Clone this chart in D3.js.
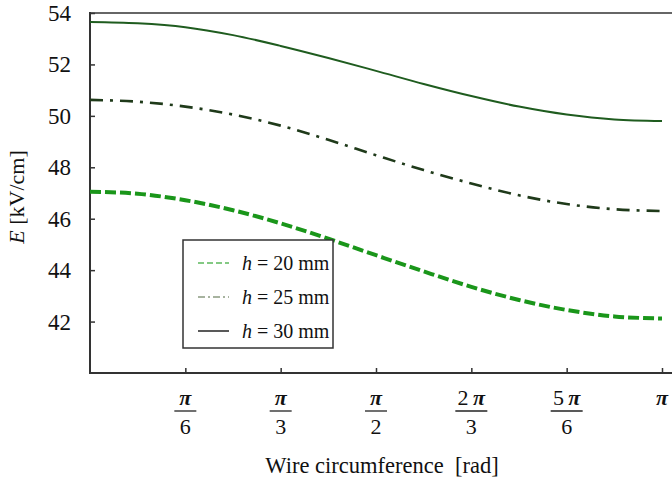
<!DOCTYPE html>
<html>
<head>
<meta charset="utf-8">
<script src="https://cdn.jsdelivr.net/npm/d3@7"></script>
<style>
  body { margin: 0; background: #fff; }
  text { font-family: "Liberation Serif", "DejaVu Serif", serif; fill: #111; }
</style>
</head>
<body>
<script>
var width = 672,
    height = 483;

// angle along wire, as fraction of pi
var angles = [0, 1/12, 2/12, 3/12, 4/12, 5/12, 6/12, 7/12, 8/12, 9/12, 10/12, 11/12, 1];

var h20 = [47.05, 46.97, 46.72, 46.33, 45.82, 45.22, 44.58, 43.95, 43.35, 42.84, 42.45, 42.20, 42.12];
var h25 = [50.62, 50.55, 50.36, 50.05, 49.62, 49.07, 48.47, 47.89, 47.37, 46.91, 46.57, 46.37, 46.30];
var h30 = [53.65, 53.60, 53.45, 53.14, 52.72, 52.25, 51.75, 51.24, 50.77, 50.36, 50.05, 49.86, 49.80];

var yTicks = [42, 44, 46, 48, 50, 52, 54];
var xTicks = [
  { v: 1/6, num: 'π', coef: '', den: '6' },
  { v: 1/3, num: 'π', coef: '', den: '3' },
  { v: 1/2, num: 'π', coef: '', den: '2' },
  { v: 2/3, num: 'π', coef: '2', den: '3' },
  { v: 5/6, num: 'π', coef: '5', den: '6' },
  { v: 1,   num: 'π', coef: '', den: '' }
];

var legendNames = ['20', '25', '30'];

var padLeft = 90, padTop = 13, padBottom = 373, padRight = 662;

var svg = d3.select('body').append('svg')
    .attr('width', width)
    .attr('height', height);

var x = d3.scaleLinear().domain([0, Math.PI]).range([padLeft, padRight]);
var y = d3.scaleLinear().domain([40, 54]).range([padBottom, padTop]);

// top border (chart is cut off on the right)
svg.append('line')
    .attr('x1', padLeft).attr('x2', width)
    .attr('y1', padTop).attr('y2', padTop)
    .attr('stroke', '#666').attr('stroke-width', 2);

// axes
var yAxis = d3.axisLeft(y).tickValues(yTicks).tickSizeInner(-5).tickSizeOuter(0).tickFormat('');
var gy = svg.append('g').attr('transform', 'translate(' + padLeft + ',0)').call(yAxis);
gy.select('.domain').remove();
gy.selectAll('.tick line').attr('stroke', '#333').attr('stroke-width', 1.5);

var xAxis = d3.axisBottom(x).tickValues(xTicks.map(function(d){ return d.v * Math.PI; }))
    .tickSizeInner(-5).tickSizeOuter(0).tickFormat('');
var gx = svg.append('g').attr('transform', 'translate(0,' + padBottom + ')').call(xAxis);
gx.select('.domain').remove();
gx.selectAll('.tick line').attr('stroke', '#333').attr('stroke-width', 1.5);

svg.append('line')
    .attr('x1', padLeft).attr('x2', padLeft)
    .attr('y1', padTop - 1).attr('y2', padBottom + 1)
    .attr('stroke', '#333').attr('stroke-width', 2);
svg.append('line')
    .attr('x1', padLeft - 1).attr('x2', width)
    .attr('y1', padBottom).attr('y2', padBottom)
    .attr('stroke', '#333').attr('stroke-width', 2);

// y tick labels
svg.selectAll('.ylab').data(yTicks).enter().append('text')
    .attr('class', 'ylab')
    .attr('x', 71)
    .attr('y', function(d){ return y(d); })
    .attr('dy', '0.35em')
    .attr('text-anchor', 'end')
    .style('font-size', '23px')
    .text(function(d){ return d; });

// x tick labels as fractions
xTicks.forEach(function(t) {
  var cx = x(t.v * Math.PI);
  var g = svg.append('g');
  var num = g.append('text')
      .attr('x', cx).attr('y', 405)
      .attr('text-anchor', 'middle')
      .style('font-size', '22px');
  if (t.coef) num.append('tspan').text(t.coef + '\u2009');
  num.append('tspan').style('font-style', 'italic').style('font-weight', 'bold').text(t.num);
  if (t.den) {
    var w = t.coef ? 32 : 22;
    g.append('line')
        .attr('x1', cx - w / 2).attr('x2', cx + w / 2)
        .attr('y1', 411).attr('y2', 411)
        .attr('stroke', '#222').attr('stroke-width', 1.3);
    g.append('text')
        .attr('x', cx).attr('y', 434)
        .attr('text-anchor', 'middle')
        .style('font-size', '22px')
        .text(t.den);
  }
});

// series lines
var line = d3.line()
    .x(function(d){ return x(d[0] * Math.PI); })
    .y(function(d){ return y(d[1]); })
    .curve(d3.curveMonotoneX);

function pts(vals) { return angles.map(function(a, i){ return [a, vals[i]]; }); }

svg.append('path').datum(pts(h30))
    .attr('d', line).attr('fill', 'none')
    .attr('stroke', '#1f5c1f').attr('stroke-width', 2);

svg.append('path').datum(pts(h25))
    .attr('d', line).attr('fill', 'none')
    .attr('stroke', '#1f3a1a').attr('stroke-width', 2.6)
    .attr('stroke-dasharray', '13,7,3,7');

svg.append('path').datum(pts(h20))
    .attr('d', line).attr('fill', 'none')
    .attr('stroke', '#1a961a').attr('stroke-width', 4)
    .attr('stroke-dasharray', '11,4');

// legend
var lg = svg.append('g');
lg.append('rect')
    .attr('x', 183).attr('y', 240).attr('width', 150).attr('height', 108)
    .attr('fill', '#fff').attr('stroke', '#333').attr('stroke-width', 1.5);

var legStyles = [
  { color: '#5cb85c', dash: '6,3', w: 1.6 },
  { color: '#8a9a80', dash: '7,3,2,3', w: 1.4 },
  { color: '#222', dash: null, w: 1.5 }
];

legendNames.forEach(function(n, i) {
  var ly = 263 + i * 34;
  var s = legStyles[i];
  var l = lg.append('line')
      .attr('x1', 198).attr('x2', 229)
      .attr('y1', ly).attr('y2', ly)
      .attr('stroke', s.color).attr('stroke-width', s.w);
  if (s.dash) l.attr('stroke-dasharray', s.dash);
  var t = lg.append('text')
      .attr('x', 242).attr('y', ly).attr('dy', '0.35em')
      .style('font-size', '20px');
  t.append('tspan').style('font-style', 'italic').text('h');
  t.append('tspan').text(' = ' + n + ' mm');
});

// axis titles
var yt = svg.append('text')
    .attr('transform', 'translate(24,197) rotate(-90)')
    .attr('text-anchor', 'middle')
    .style('font-size', '22px');
yt.append('tspan').style('font-style', 'italic').text('E');
yt.append('tspan').text(' [kV/cm]');

svg.append('text')
    .attr('x', 382).attr('y', 473)
    .attr('text-anchor', 'middle')
    .style('font-size', '22.5px')
    .style('white-space', 'pre')
    .text('Wire circumference  [rad]');
</script>
</body>
</html>
